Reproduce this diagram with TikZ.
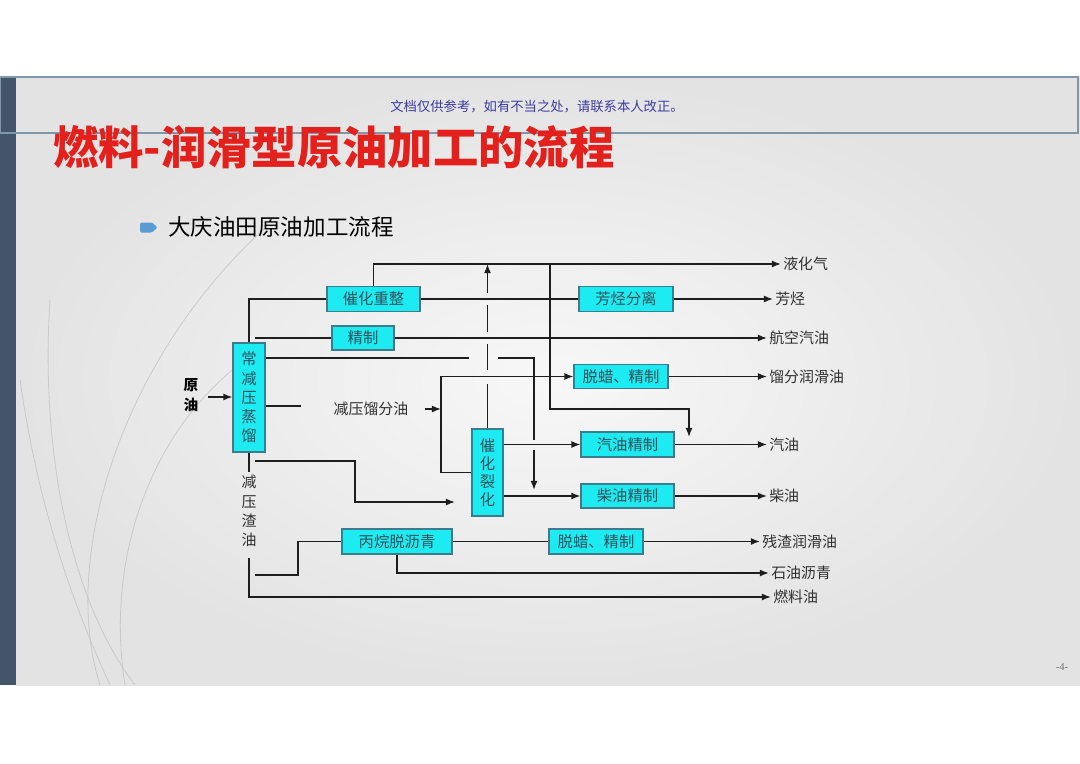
\documentclass[tikz,border=0pt]{standalone}
\usepackage{fontspec}
\setmainfont{Noto Sans CJK SC}
\newfontfamily\numfont{Liberation Serif}
\usetikzlibrary{arrows.meta,calc}
\definecolor{boxfill}{HTML}{1CEBF2}
\definecolor{boxdraw}{HTML}{3D7C8C}
\definecolor{boxtxt}{HTML}{34505A}
\definecolor{lbltxt}{HTML}{303030}
\definecolor{linec}{HTML}{1E1E1E}
\definecolor{titlered}{HTML}{E3201B}
\definecolor{barc}{HTML}{44546A}
\definecolor{wmark}{HTML}{3C3CA0}
\definecolor{bulletc}{HTML}{5B9BD5}
\definecolor{hdrline}{HTML}{7F97AA}
\tikzset{
  procbox/.style={draw=boxdraw, fill=boxfill, line width=0.8pt, inner sep=0pt,
    text=boxtxt, font=\fontsize{11.5}{14.4}\selectfont, align=center},
  outlbl/.style={anchor=west, inner sep=1.5pt, text=lbltxt, font=\fontsize{11.2}{13}\selectfont},
  flow/.style={draw=linec, line width=1.05pt},
  flowarr/.style={flow, -{Latex[length=6.8pt,width=5.2pt]}},
  deco/.style={draw=black!25, line width=0.6pt, opacity=0.7}
}
\begin{document}
\begin{tikzpicture}[x=0.75pt,y=-0.75pt]
\useasboundingbox (0,0) rectangle (1080,763);
% page and slide background
\fill[white] (0,0) rectangle (1080,763);
\shade[inner color=white!97!black, outer color=black!11] (16,77) rectangle (1080,685);
\fill[barc] (0,77) rectangle (16,685);
\draw[hdrline, line width=0.8pt] (0,77) rectangle (1078,133);
% faint decorative curves
\draw[deco] (100,685) .. controls (60,560) and (120,360) .. (265,228);
\draw[deco] (125,685) .. controls (105,560) and (150,430) .. (245,360);
\draw[deco] (20,380) .. controls (40,520) and (80,620) .. (110,685);
\draw[deco] (50,300) .. controls (40,450) and (70,600) .. (135,685);
% watermark, title, subtitle
\node[text=wmark, font=\fontsize{10}{12}\selectfont] (wm) at (537,107) {文档仅供参考，如有不当之处，请联系本人改正。};
\node[anchor=west, inner sep=0pt, text=titlered, font=\fontsize{34}{36}\selectfont\bfseries] (title) at (53,147) {燃料-润滑型原油加工的流程};
\fill[bulletc, rounded corners=1pt] (140,222.5) -- (152,222.5) -- (157.5,227.5) -- (152,232.5) -- (140,232.5) -- cycle;
\node[anchor=west, inner sep=0pt, text=black, font=\fontsize{16.9}{20}\selectfont] (sub) at (168,227) {大庆油田原油加工流程};
% page number
\node[text=black!55, font=\numfont\fontsize{8}{9}\selectfont] (pg) at (1062,667) {-4-};

% process boxes
\node[procbox, minimum width=24pt, minimum height=81.75pt] (cdist) at (249,397.5) {常\\减\\压\\蒸\\馏};
\node[procbox, minimum width=69.75pt, minimum height=18.75pt] (reform) at (373.5,299) {催化重整};
\node[procbox, minimum width=46.5pt, minimum height=18pt] (refine) at (363,338) {精制};
\node[procbox, minimum width=70.5pt, minimum height=18.75pt] (arom) at (626,299) {芳烃分离};
\node[procbox, minimum width=70.5pt, minimum height=18pt] (dewaxa) at (621,376.5) {脱蜡、精制};
\node[procbox, minimum width=69.75pt, minimum height=18.75pt] (gasref) at (627.5,444.5) {汽油精制};
\node[procbox, minimum width=69.75pt, minimum height=18pt] (dieref) at (627.5,496) {柴油精制};
\node[procbox, minimum width=23.25pt, minimum height=65.25pt, font=\fontsize{11.5}{13.5}\selectfont] (fcc) at (487.5,472.5) {催\\化\\裂\\化};
\node[procbox, minimum width=82.5pt, minimum height=18.75pt] (deasph) at (397,541.5) {丙烷脱沥青};
\node[procbox, minimum width=70.5pt, minimum height=18.75pt] (dewaxb) at (596,541.5) {脱蜡、精制};

% inner labels
\node[text=black, font=\fontsize{11}{15}\selectfont\bfseries, align=center, inner sep=1pt] (crude) at (191,395) {原\\油};
\node[text=lbltxt, font=\fontsize{11.2}{13}\selectfont, inner sep=0pt] (vgo) at (371,409) {减压馏分油};
\node[text=lbltxt, font=\fontsize{11.2}{14.5}\selectfont, align=center, inner sep=0pt] (vres) at (249,511) {减\\压\\渣\\油};

% product labels
\node[outlbl] (lpg) at (781,264) {液化气};
\node[outlbl] (aromo) at (773,299) {芳烃};
\node[outlbl] (jet) at (767,338) {航空汽油};
\node[outlbl] (lube) at (767,376.5) {馏分润滑油};
\node[outlbl] (gas) at (767,444.5) {汽油};
\node[outlbl] (dies) at (767,496) {柴油};
\node[outlbl] (rlube) at (760,541.5) {残渣润滑油};
\node[outlbl] (asph) at (769,573) {石油沥青};
\node[outlbl] (fuel) at (771,597) {燃料油};

% helper coordinates
\coordinate (crudeA) at (208,397);
\coordinate (jetsrc) at (255,338);
\coordinate (cokA) at (469,358);
\coordinate (cokB) at (498,358);
\coordinate (cokC) at (534,358);
\coordinate (cokD) at (534,440);
\coordinate (cokE) at (534,450);
\coordinate (cokF) at (534,490);
\coordinate (vgoL) at (301,406);
\coordinate (vgoA) at (425,409);
\coordinate (bus) at (441,409);
\coordinate (busTop) at (441,376.5);
\coordinate (gvA) at (550,264);
\coordinate (gvB) at (550,409);
\coordinate (gvC) at (689,409);
\coordinate (gvD) at (689,437);
\coordinate (vrA) at (249,472);
\coordinate (vrB) at (249,558);
\coordinate (vrC) at (255,461);
\coordinate (vrD) at (355,502);
\coordinate (vrE) at (455,502);
\coordinate (daA) at (255,575);
\coordinate (daB) at (298,541.5);
\coordinate (upA) at (487.5,384);
\coordinate (upB) at (487.5,370);
\coordinate (upC) at (487.5,344);
\coordinate (upD) at (487.5,332);
\coordinate (upE) at (487.5,305);
\coordinate (upF) at (487.5,293);
\coordinate (upG) at (487.5,264);

% feed
\draw[flowarr] (crudeA) -- (cdist.west |- crudeA);
% reforming / LPG
\draw[flowarr] (reform.north) |- (lpg.west);
\draw[flow] (cdist.north) |- (reform.west);
\draw[flow] (reform.east) -- (arom.west);
\draw[flowarr] (arom.east) -- (aromo.west);
% jet fuel
\draw[flow] (jetsrc) -- (refine.west);
\draw[flowarr] (refine.east) -- (jet.west);
% side stream to diesel refining (with jump gaps)
\draw[flow] (cdist.east |- cokA) -- (cokA);
\draw[flow] (cokB) -- (cokC) -- (cokD);
\draw[flowarr] (cokE) -- (cokF);
% vacuum distillate
\draw[flow] (cdist.east |- vgoL) -- (vgoL);
\draw[flowarr] (vgoA) -- (bus);
\draw[flowarr] (fcc.west) -| (busTop) -- (dewaxa.west);
\draw[flowarr] (dewaxa.east) -- (lube.west);
% FCC products
\draw[flowarr] (fcc.east |- gasref.west) -- (gasref.west);
\draw[flowarr] (gasref.east) -- (gas.west);
\draw[flowarr] (fcc.east |- dieref.west) -- (dieref.west);
\draw[flowarr] (dieref.east) -- (dies.west);
% FCC gas up to LPG line (with jump gaps)
\draw[flow] (fcc.north) -- (upA);
\draw[flow] (upB) -- (upC);
\draw[flow] (upD) -- (upE);
\draw[flowarr] (upF) -- (upG);
% line from LPG level to gasoline refining
\draw[flowarr] (gvA) -- (gvB) -- (gvC) -- (gvD);
% vacuum residue
\draw[flow] (cdist.south) -- (vrA);
\draw[flowarr] (vrB) |- (fuel.west);
\draw[flowarr] (vrC) -| (vrD) -- (vrE);
\draw[flow] (daA) -| (daB) -- (deasph.west);
\draw[flow] (deasph.east) -- (dewaxb.west);
\draw[flowarr] (dewaxb.east) -- (rlube.west);
\draw[flowarr] (deasph.south) |- (asph.west);
\end{tikzpicture}
\end{document}
